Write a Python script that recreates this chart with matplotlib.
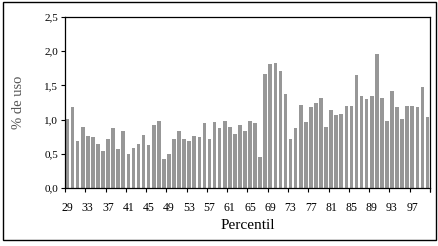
import matplotlib
matplotlib.use("Agg")
import matplotlib.pyplot as plt
from matplotlib.patches import Rectangle
from matplotlib.ticker import FixedLocator, FuncFormatter

percentil = list(range(29, 101))
uso = [1.01, 1.19, 0.68, 0.89, 0.76, 0.75, 0.65, 0.54, 0.72, 0.88,
       0.57, 0.84, 0.49, 0.59, 0.65, 0.78, 0.63, 0.92, 0.98, 0.43,
       0.49, 0.71, 0.84, 0.72, 0.69, 0.76, 0.75, 0.95, 0.71, 0.97,
       0.88, 0.98, 0.89, 0.79, 0.92, 0.84, 0.98, 0.95, 0.46, 1.67,
       1.81, 1.83, 1.71, 1.38, 0.71, 0.88, 1.22, 0.97, 1.19, 1.25,
       1.32, 0.89, 1.14, 1.07, 1.08, 1.20, 1.20, 1.65, 1.35, 1.30,
       1.35, 1.96, 1.32, 0.98, 1.42, 1.19, 1.01, 1.20, 1.20, 1.19,
       1.48, 1.04]
tick_labels = [str(p) for p in range(29, 101, 4)]

plt.rcParams['font.family'] = ['Liberation Serif', 'DejaVu Serif']

fig = plt.figure(figsize=(4.39, 2.46), dpi=100)
ax = fig.add_axes([65/439, 1-188/246, (430-65)/439, (188-17)/246])

ax.bar(percentil, uso, width=0.72, color='#979797')
ax.set_xlim(28.5, 100.5)
ax.set_ylim(0, 2.5)

# ticks between categories, labels under every 4th category
ax.xaxis.set_major_locator(FixedLocator([p - 0.5 for p in range(29, 102, 4)] + [100.5]))
ax.xaxis.set_major_formatter(FuncFormatter(lambda v, pos: ''))
ax.xaxis.set_minor_locator(FixedLocator(list(range(29, 101, 4))))
ax.set_xticklabels(tick_labels, minor=True)
ax.tick_params(axis='x', which='minor', length=0, pad=10, labelsize=8.5)
ax.tick_params(axis='x', which='major', length=3, width=0.8, direction='out')

ax.set_yticks([0, 0.5, 1.0, 1.5, 2.0, 2.5])
ax.yaxis.set_major_formatter(FuncFormatter(lambda v, pos: f"{v:.1f}".replace('.', ',')))
ax.tick_params(axis='y', length=3, width=0.8, direction='out', labelsize=8, pad=2)

for s in ax.spines.values():
    s.set_linewidth(0.9)

ax.set_ylabel('% de uso', fontsize=10.5, color='#555555', labelpad=14)
ax.set_xlabel('Percentil', fontsize=11, labelpad=4)

fig.patches.append(Rectangle((3/439, 6/246), 433/439, 238/246, transform=fig.transFigure,
                             fill=False, edgecolor='black', linewidth=1))

fig.savefig('out.png', dpi=100)
